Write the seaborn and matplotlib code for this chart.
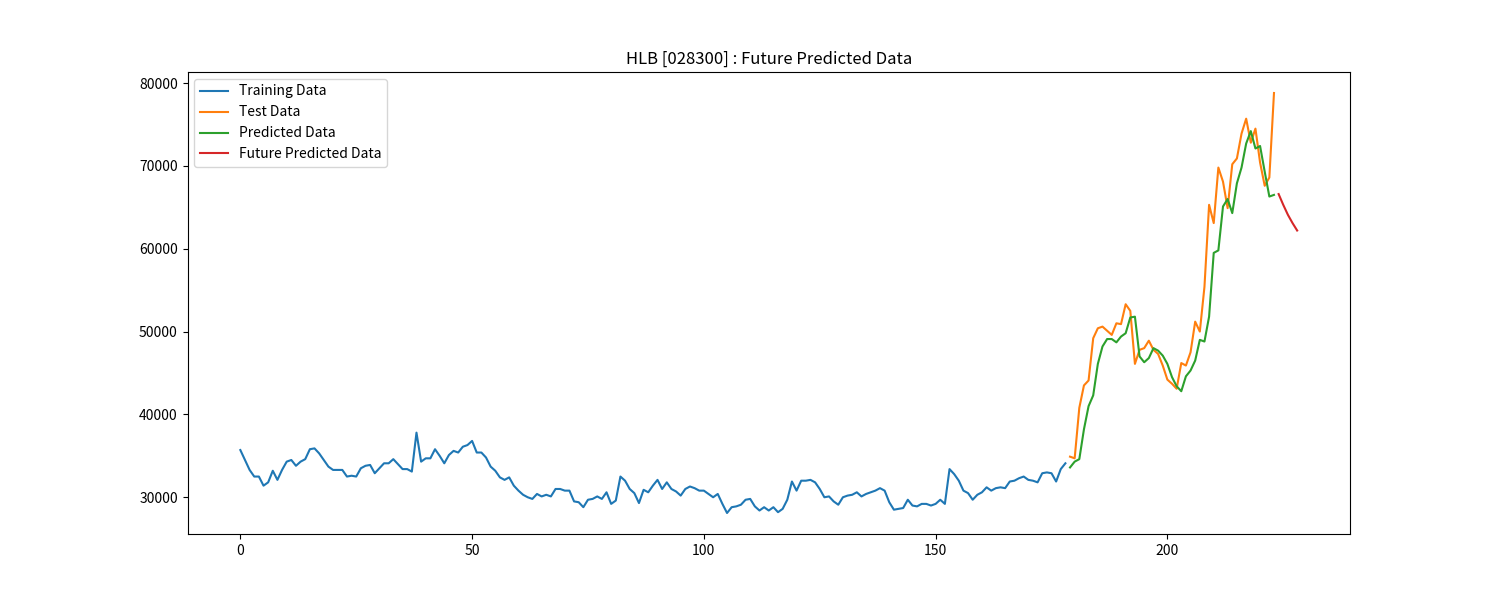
import numpy as np
import pandas as pd
import matplotlib
matplotlib.use("Agg")
import matplotlib.pyplot as plt
import seaborn as sns

plt.rcParams['font.family'] = ['Noto Sans CJK KR', 'DejaVu Sans']

# closing prices
train_vals = [
    35700, 34500, 33300, 32500, 32500, 31400, 31800, 33200, 32100, 33300,
    34300, 34500, 33800, 34300, 34600, 35800, 35900, 35300, 34500, 33700,
    33300, 33300, 33300, 32500, 32600, 32500, 33500, 33800, 33900, 32900,
    33500, 34100, 34100, 34600, 34000, 33400, 33400, 33100, 37800, 34300,
    34700, 34700, 35800, 35000, 34100, 35100, 35600, 35400, 36100, 36300,
    36800, 35400, 35400, 34800, 33700, 33200, 32400, 32100, 32400, 31400,
    30800, 30300, 30000, 29800, 30400, 30100, 30300, 30100, 31000, 31000,
    30800, 30800, 29500, 29400, 28800, 29700, 29800, 30100, 29800, 30600,
    29200, 29600, 32500, 32000, 31000, 30500, 29300, 30900, 30600, 31400,
    32100, 31000, 31800, 31000, 30700, 30200, 31000, 31300, 31100, 30800,
    30800, 30400, 30000, 30400, 29200, 28100, 28800, 28900, 29100, 29700,
    29800, 28900, 28400, 28800, 28400, 28800, 28200, 28600, 29700, 31900,
    30800, 32000, 32000, 32100, 31800, 31000, 30000, 30100, 29500, 29100,
    30000, 30200, 30300, 30600, 30100, 30400, 30600, 30800, 31100, 30800,
    29400, 28500, 28600, 28700, 29700, 29000, 28900, 29200, 29200, 29000,
    29200, 29700, 29200, 33400, 32800, 32000, 30800, 30500, 29700, 30300,
    30600, 31200, 30800, 31100, 31200, 31100, 31900, 32000, 32300, 32500,
    32100, 32000, 31800, 32900, 33000, 32900, 31900, 33400, 34100,
]

test_vals = [
    34900, 34700, 40800, 43500, 44100, 49200, 50400, 50600, 50100, 49600,
    51000, 50900, 53300, 52500, 46100, 47800, 48000, 48900, 47800, 47300,
    45900, 44200, 43700, 43100, 46200, 45900, 47500, 51200, 50000, 55400,
    65300, 63100, 69800, 68100, 64900, 70200, 70900, 73900, 75700, 72800,
    74500, 70400, 67600, 68600, 78800,
]

pred_vals = [
    33600, 34300, 34600, 38200, 41000, 42300, 46100, 48200, 49100, 49100,
    48700, 49400, 49800, 51700, 51800, 47000, 46300, 46800, 48000, 47700,
    47100, 46100, 44500, 43400, 42800, 44600, 45300, 46500, 49000, 48800,
    51800, 59500, 59800, 65100, 66000, 64300, 67900, 69800, 72700, 74200,
    72100, 72400, 69300, 66300, 66500,
]

future_vals = [66600, 65300, 64100, 63100, 62200]

n_train = len(train_vals)
train_x = np.arange(n_train)
test_x = np.arange(n_train, n_train + len(test_vals))
pred_x = np.arange(n_train, n_train + len(pred_vals))
future_x = np.arange(test_x[-1] + 1, test_x[-1] + 1 + len(future_vals))

fig, ax = plt.subplots(figsize=(15, 6), dpi=100)
sns.lineplot(x=train_x, y=train_vals, ax=ax, label="Training Data", color="#1f77b4", linewidth=1.5)
sns.lineplot(x=test_x, y=test_vals, ax=ax, label="Test Data", color="#ff7f0e", linewidth=1.5)
sns.lineplot(x=pred_x, y=pred_vals, ax=ax, label="Predicted Data", color="#2ca02c", linewidth=1.5)
sns.lineplot(x=future_x, y=future_vals, ax=ax, label="Future Predicted Data", color="#d62728", linewidth=1.5)

ax.set_title("HLB [028300] : Future Predicted Data")
ax.legend(loc="upper left")
ax.set_xlabel("")
ax.set_ylabel("")

plt.savefig("out.png", dpi=100)
